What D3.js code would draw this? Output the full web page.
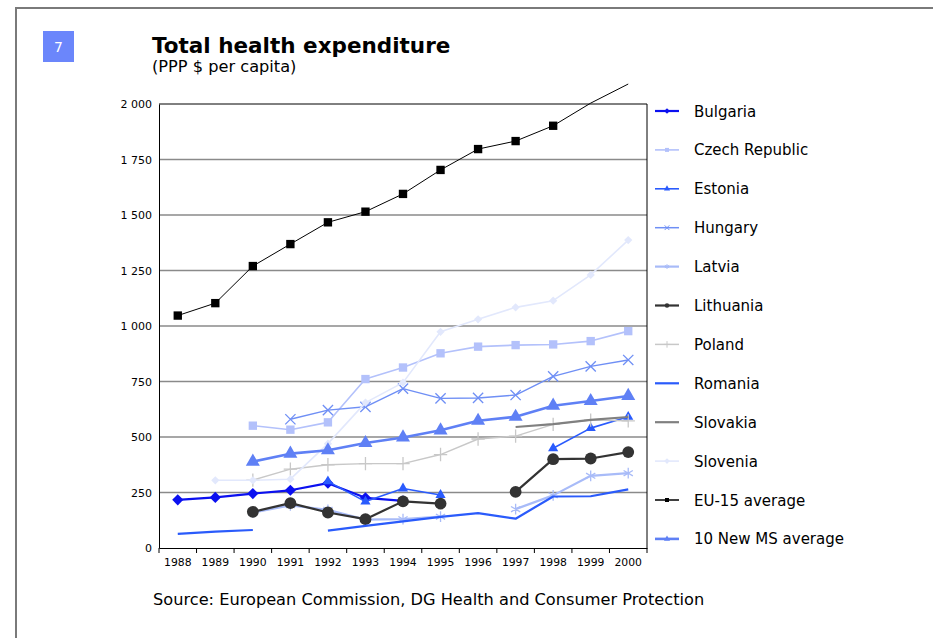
<!DOCTYPE html>
<html>
<head>
<meta charset="utf-8">
<script src="https://cdn.jsdelivr.net/npm/d3@7"></script>
<style>
  html, body { margin: 0; padding: 0; background: #fff; }
  svg { display: block; font-family: "DejaVu Sans", Verdana, sans-serif; }
</style>
</head>
<body>
<script>
// values (PPP $ per capita), null = no data
const years = ['1988', '1989', '1990', '1991', '1992', '1993', '1994', '1995', '1996', '1997', '1998', '1999', '2000'];
const yTicks = [0, 250, 500, 750, 1000, 1250, 1500, 1750, 2000];

const bulgaria   = [217, 228, 245, 260, 292, 226, 212, null, null, null, null, null, null];
const czech      = [null, null, 551, 533, 566, 761, 813, 877, 907, 914, 917, 932, 977];
const estonia    = [null, null, null, null, 300, 209, 268, 239, null, null, 449, 540, 591];
const hungary    = [null, null, null, 580, 621, 636, 718, 674, 676, 689, 773, 818, 847];
const latvia     = [null, null, 160, 192, 172, 128, 130, 141, null, 175, 237, 325, 337];
const lithuania  = [null, null, 163, 202, 160, 130, 210, 200, null, 253, 400, 403, 432];
const poland     = [null, null, 306, 355, 375, 380, 380, 421, 491, 504, 557, 576, 573];
const romania    = [64, 74, 81, null, 78, 100, 120, 140, 157, 132, 232, 233, 264];
const slovakia   = [null, null, null, null, null, null, null, null, null, 545, 558, 577, 590];
const slovenia   = [null, 305, 305, 310, 470, 655, 745, 974, 1030, 1084, 1114, 1230, 1387];
const eu15       = [1047, 1103, 1270, 1369, 1467, 1515, 1595, 1703, 1797, 1833, 1902, 2004, 2090];
const newMS      = [null, null, 389, 425, 440, 473, 498, 530, 573, 591, 641, 662, 685];

const seriesNames = ['Bulgaria', 'Czech Republic', 'Estonia', 'Hungary', 'Latvia', 'Lithuania',
    'Poland', 'Romania', 'Slovakia', 'Slovenia', 'EU-15 average', '10 New MS average'];
const seriesValues = [bulgaria, czech, estonia, hungary, latvia, lithuania,
    poland, romania, slovakia, slovenia, eu15, newMS];

const symTimes = d3.symbolTimes || d3.symbolX || d3.symbolCross;
const symPlus = d3.symbolPlus || d3.symbolCross;
const symAst = d3.symbolAsterisk || d3.symbolCross;

// look of each series: colour, line width, marker (rot = turn the square into a diamond)
const styles = [
    { color: '#0b10f0', width: 2.2, sym: d3.symbolSquare, size: 62, fill: true, rot: 45 },
    { color: '#b3c1fb', width: 1.6, sym: d3.symbolSquare, size: 70, fill: true },
    { color: '#2a5bfd', width: 1.6, sym: d3.symbolTriangle, size: 45, fill: true },
    { color: '#6f8ff5', width: 1.4, sym: symTimes, size: 70, fill: false },
    { color: '#a8bbf8', width: 2.2, sym: symAst, size: 80, fill: false },
    { color: '#333333', width: 2.2, sym: d3.symbolCircle, size: 110, fill: true },
    { color: '#c8c8c8', width: 1.4, sym: symPlus, size: 60, fill: false },
    { color: '#2a5bfb', width: 2.2, sym: null },
    { color: '#808080', width: 2.2, sym: null },
    { color: '#e2e8fc', width: 1.6, sym: d3.symbolSquare, size: 34, fill: true, rot: 45 },
    { color: '#000000', width: 1, sym: d3.symbolSquare, size: 70, fill: true },
    { color: '#5f80f5', width: 2.6, sym: d3.symbolTriangle, size: 85, fill: true }
];

const W = 933, H = 638;
const plot = { left: 159, top: 104, right: 647, bottom: 548 };

const svg = d3.select('body').append('svg').attr('width', W).attr('height', H);
svg.append('rect').attr('width', W).attr('height', H).attr('fill', '#fff');

// page frame
svg.append('path')
    .attr('d', `M16,${H}V8H${W}`)
    .attr('fill', 'none').attr('stroke', '#7a7a7a').attr('stroke-width', 2);

// number badge
svg.append('rect').attr('x', 43).attr('y', 31).attr('width', 31).attr('height', 31).attr('fill', '#6b86fb');
svg.append('text').attr('x', 58.5).attr('y', 52).attr('text-anchor', 'middle')
    .attr('fill', '#fff').attr('font-size', 14).text('7');

svg.append('text').attr('x', 152).attr('y', 53)
    .attr('font-size', 21.5).attr('font-weight', 'bold').text('Total health expenditure');
svg.append('text').attr('x', 152).attr('y', 72)
    .attr('font-size', 16.2).text('(PPP $ per capita)');

svg.append('text').attr('x', 153).attr('y', 605)
    .attr('font-size', 16.2).text('Source: European Commission, DG Health and Consumer Protection');

const x = d3.scaleBand().domain(years).range([plot.left, plot.right]);
const y = d3.scaleLinear().domain([0, 2000]).range([plot.bottom, plot.top]);
const cx = d => x(d) + x.bandwidth() / 2;

// gridlines
svg.append('g')
    .selectAll('line')
    .data(yTicks.slice(1, -1))
    .join('line')
    .attr('x1', plot.left).attr('x2', plot.right)
    .attr('y1', d => y(d)).attr('y2', d => y(d))
    .attr('stroke', '#8a8a8a').attr('stroke-width', 1.3);

// plot border (top, right)
svg.append('path')
    .attr('d', `M${plot.left},${plot.top}H${plot.right}V${plot.bottom}`)
    .attr('fill', 'none').attr('stroke', '#000').attr('stroke-width', 1);

const fmt = v => d3.format(',')(v).replace(',', ' ');
const yAxis = svg.append('g')
    .attr('transform', `translate(${plot.left},0)`)
    .call(d3.axisLeft(y).tickValues(yTicks).tickSize(0).tickPadding(7).tickFormat(fmt));
yAxis.select('.domain').attr('stroke', '#000');
yAxis.selectAll('text').attr('font-size', 11).attr('font-family', '"DejaVu Sans", Verdana, sans-serif').attr('fill', '#000');

const xAxis = svg.append('g')
    .attr('transform', `translate(0,${plot.bottom})`)
    .call(d3.axisBottom(x).tickSize(0).tickPadding(10));
xAxis.select('.domain').attr('stroke', '#000');
xAxis.selectAll('text').attr('font-size', 10.8).attr('font-family', '"DejaVu Sans", Verdana, sans-serif').attr('fill', '#000');
// tick marks sit between the categories
xAxis.append('g').selectAll('line')
    .data(d3.range(years.length + 1))
    .join('line')
    .attr('x1', i => plot.left + i * x.bandwidth()).attr('x2', i => plot.left + i * x.bandwidth())
    .attr('y1', 0).attr('y2', 5)
    .attr('stroke', '#000');

const line = d3.line()
    .defined(d => d.v != null)
    .x(d => cx(d.year))
    .y(d => y(d.v));

seriesValues.forEach((vals, i) => {
    const st = styles[i];
    const pts = vals.map((v, j) => ({ year: years[j], v: v }));
    const g = svg.append('g');
    g.append('path')
        .attr('d', line(pts))
        .attr('fill', 'none')
        .attr('stroke', st.color)
        .attr('stroke-width', st.width)
        .attr('stroke-linejoin', 'round');
    if (st.sym) {
        g.selectAll('path.m')
            .data(pts.filter(d => d.v != null && d.v <= 2000))
            .join('path')
            .attr('class', 'm')
            .attr('transform', d => `translate(${cx(d.year)},${y(d.v)}) rotate(${st.rot || 0})`)
            .attr('d', d3.symbol(st.sym, st.size))
            .attr('fill', st.fill ? st.color : 'none')
            .attr('stroke', st.color)
            .attr('stroke-width', st.fill ? 0 : 1.3);
    }
});

// legend
const legend = svg.append('g');
seriesNames.forEach((name, i) => {
    const st = styles[i];
    const ly = 111 + i * 38.9;
    legend.append('line')
        .attr('x1', 655).attr('x2', 679).attr('y1', ly).attr('y2', ly)
        .attr('stroke', st.color).attr('stroke-width', Math.max(st.width, 1.5));
    if (st.sym) {
        legend.append('path')
            .attr('transform', `translate(667,${ly}) rotate(${st.rot || 0})`)
            .attr('d', d3.symbol(st.sym, 16))
            .attr('fill', st.fill ? st.color : 'none')
            .attr('stroke', st.color)
            .attr('stroke-width', st.fill ? 0 : 1);
    }
    legend.append('text')
        .attr('x', 694).attr('y', ly + 5.5)
        .attr('font-size', 15)
        .text(name);
});
</script>
</body>
</html>
